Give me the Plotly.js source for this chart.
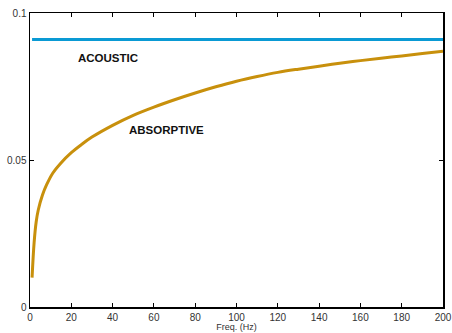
<!DOCTYPE html>
<html>
<head>
<meta charset="utf-8">
<script src="https://cdn.plot.ly/plotly-3.0.1.min.js"></script>
<style>html,body{margin:0;padding:0;background:#fff;}#chart{width:452px;height:333px;}</style>
</head>
<body>
<div id="chart"></div>
<script>
const freq = [1, 2, 3, 4, 6, 8, 11, 15, 20, 25, 30, 40, 50, 60, 70, 80, 90, 100, 110, 120, 130, 140, 150, 160, 170, 180, 190, 200];
const absorptive = [0.010, 0.022, 0.029, 0.033, 0.038, 0.0415, 0.0455, 0.049, 0.0525, 0.0553, 0.0578, 0.0618, 0.0652, 0.068, 0.0705, 0.0728, 0.0749, 0.0768, 0.0784, 0.0798, 0.0809, 0.0819, 0.0829, 0.0838, 0.0846, 0.0854, 0.0862, 0.0870];
const acoustic = freq.map(() => 0.091);
const xTicks = [0, 20, 40, 60, 80, 100, 120, 140, 160, 180, 200];
const yTicks = [0, 0.05, 0.1];
const yTickLabels = ['0', '0.05', '0.1'];
const labels = ['ACOUSTIC', 'ABSORPTIVE'];
const labelX = [37.8, 66.3];
const labelY = [0.0847, 0.0602];

const traces = [
  {x: freq, y: acoustic, mode: 'lines', line: {color: '#0a9ad4', width: 3}, hoverinfo: 'skip'},
  {x: freq, y: absorptive, mode: 'lines', line: {color: '#c8900c', width: 3, shape: 'spline', smoothing: 1}, hoverinfo: 'skip'}
];

const axisCommon = {
  showgrid: false, zeroline: false, showline: true, linecolor: '#000', linewidth: 1.5,
  mirror: 'ticks', ticks: 'inside', ticklen: 4, tickcolor: '#000', tickwidth: 1,
  tickfont: {family: 'Liberation Sans, Arial, sans-serif', size: 10, color: '#333'}
};

const layout = {
  width: 452, height: 333,
  margin: {l: 30, r: 9, t: 13, b: 26},
  paper_bgcolor: '#fff', plot_bgcolor: '#fff',
  showlegend: false,
  xaxis: Object.assign({}, axisCommon, {
    range: [0, 200], tickvals: xTicks, ticktext: xTicks.map(String),
    title: {text: 'Freq. (Hz)', font: {family: 'Liberation Sans, Arial, sans-serif', size: 9, color: '#333'}, standoff: 2}
  }),
  yaxis: Object.assign({}, axisCommon, {
    range: [0, 0.1], tickvals: yTicks, ticktext: yTickLabels
  }),
  annotations: labels.map((t, i) => ({
    x: labelX[i], y: labelY[i], xref: 'x', yref: 'y', text: '<b>' + t + '</b>', showarrow: false,
    font: {family: 'Liberation Sans, Arial, sans-serif', size: 11.5, color: '#111'}
  }))
};

Plotly.newPlot('chart', traces, layout, {staticPlot: true, displayModeBar: false});
</script>
</body>
</html>
